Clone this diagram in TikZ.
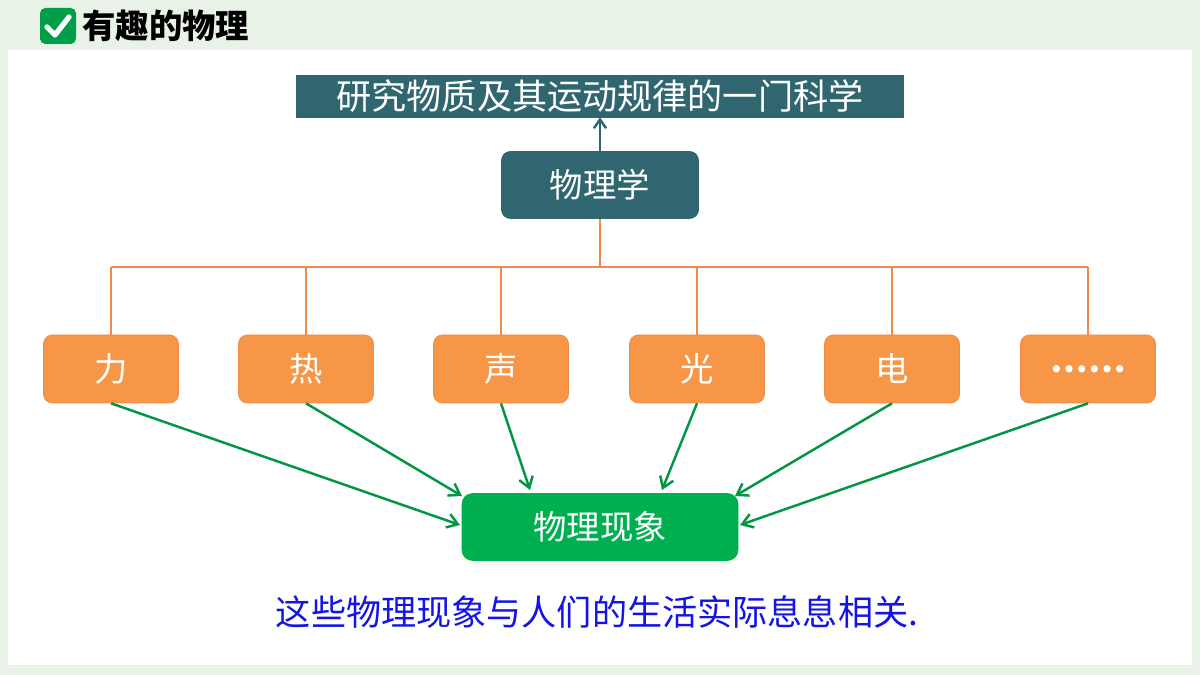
\documentclass[tikz,border=0pt]{standalone}
\usepackage{fontspec}
\setmainfont{Noto Sans CJK SC}
\usetikzlibrary{arrows.meta}
\definecolor{bgGreen}{HTML}{E9F2E6}
\definecolor{tealBox}{HTML}{2F6670}
\definecolor{orangeBox}{HTML}{F79646}
\definecolor{orangeLine}{HTML}{F08A4B}
\definecolor{greenBox}{HTML}{00B050}
\definecolor{textBlue}{HTML}{1414E6}
\tikzset{
    branch/.style={draw=orangeLine, fill=orangeBox, rounded corners=5pt, minimum width=135*0.02cm, minimum height=68*0.02cm, text=white, font=\fontsize{19}{22}\selectfont},
    feed/.style={draw=greenBox!85!black, line width=1.4pt, -{Straight Barb[length=6pt,width=8pt]}}
}
\begin{document}
\begin{tikzpicture}[x=0.02cm, y=-0.02cm]
    \fill[bgGreen] (0,0) rectangle (1200,675);
    \fill[white] (8,50) rectangle (1192,665);
    % title
    \node[fill=greenBox!90!black, rounded corners=3pt, minimum size=36*0.02cm, inner sep=0pt] (check) at (58,26) {};
    \draw[white, line width=3pt, line cap=round, line join=round] (47,27) -- (55,35) -- (69,17);
    \node[anchor=west, font=\bfseries\fontsize{19}{22}\selectfont, inner sep=0pt] (title) at (82,26) {有趣的物理};
    % definition
    \node[fill=tealBox, draw=tealBox, minimum width=607*0.02cm, minimum height=42*0.02cm, inner sep=0pt, text=white, font=\fontsize{20}{22}\selectfont] (def) at (600,96) {研究物质及其运动规律的一门科学};
    \node[fill=tealBox, draw=tealBox, rounded corners=5pt, minimum width=197*0.02cm, minimum height=67*0.02cm, text=white, font=\fontsize{19}{22}\selectfont] (phys) at (600,185) {物理学};
    \draw[tealBox, line width=1.4pt, -{Straight Barb[length=5pt,width=7pt]}] (phys) -- (def);
    % branches
    \coordinate (hub) at (600,267);
    \draw[orangeLine, line width=1.5pt] (phys.south) -- (hub);
    \draw[orangeLine, line width=1.5pt] (111,267) -- (1088,267);
    \foreach \x/\name/\txt in {111/li/力, 306/re/热, 501/sheng/声, 697/guang/光, 892/dian/电, 1088/etc/\textbf{……}} {
        \node[branch] (\name) at (\x,369) {\txt};
        \draw[orangeLine, line width=1.5pt] (\x,267) -- (\name.north);
    }
    % phenomena
    \node[fill=greenBox, draw=greenBox, rounded corners=6pt, minimum width=276*0.02cm, minimum height=67*0.02cm, text=white, font=\fontsize{19}{22}\selectfont] (xx) at (600,527) {物理现象};
    \coordinate (a1) at (460,525);
    \coordinate (a2) at (462,496);
    \coordinate (a3) at (530,490);
    \coordinate (a4) at (662,490);
    \coordinate (a5) at (735,496);
    \coordinate (a6) at (740,525);
    \draw[feed] (li.south) -- (a1);
    \draw[feed] (re.south) -- (a2);
    \draw[feed] (sheng.south) -- (a3);
    \draw[feed] (guang.south) -- (a4);
    \draw[feed] (dian.south) -- (a5);
    \draw[feed] (etc.south) -- (a6);
    \node[text=textBlue, font=\fontsize{20}{22}\selectfont] (note) at (597,612) {这些物理现象与人们的生活实际息息相关.};
\end{tikzpicture}
\end{document}
